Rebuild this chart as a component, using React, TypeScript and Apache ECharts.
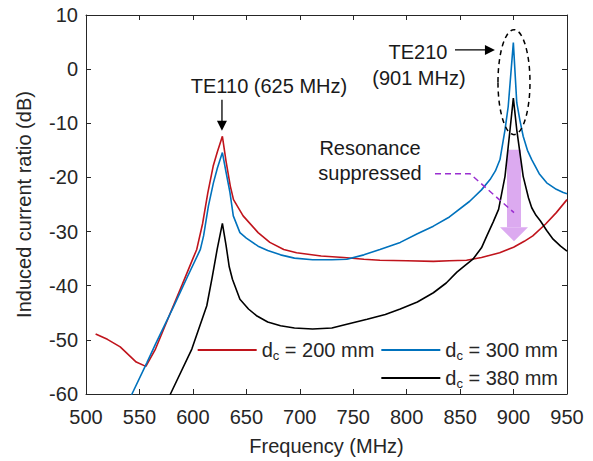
import React, { useEffect, useRef } from "react";
import * as echarts from "echarts";

// ---- data ----
const xTicks = { min: 500, max: 950, interval: 50 };
const yTicks = { min: -60, max: 10, interval: 10 };

const seriesNames = ["dc = 200 mm", "dc = 300 mm", "dc = 380 mm"];

const freq200 = [509, 520, 532, 547, 556, 565, 579, 590, 600, 603.6, 609, 614, 619, 623, 627.6, 631, 635, 638, 647, 661, 672, 685, 697, 720, 741, 760, 775, 800, 825, 840, 856, 870, 887, 900, 910, 918, 930, 940, 950];
const db200 = [-48.9, -49.9, -51.3, -54.1, -54.9, -51.7, -45.0, -39.8, -35.0, -33.3, -28.6, -22.8, -17.9, -15.2, -12.4, -17, -21.6, -24.1, -27.1, -30.2, -32, -33.3, -33.9, -34.5, -34.8, -35.1, -35.3, -35.4, -35.5, -35.4, -35.3, -34.8, -33.9, -32.9, -31.8, -30.8, -28.6, -26.5, -24.1];

const freq300 = [535, 543, 557, 565, 581.6, 595, 607, 610, 614.5, 619.2, 623, 627.6, 631, 634.7, 637.8, 644, 650, 661, 670, 682, 695, 712, 730, 744, 760, 775, 794, 810, 825, 840, 859, 870, 878, 883, 887.3, 892, 895, 899.8, 903, 906, 909, 913, 917, 924, 931, 940, 946.5, 950];
const db300 = [-63.4, -60, -54.2, -50.8, -44, -38.3, -33.3, -30.8, -25.3, -21, -18.2, -15.4, -19, -22.8, -27.1, -30.2, -31.2, -32.7, -33.5, -34.3, -34.9, -35.2, -35.2, -35.1, -34.3, -33.3, -32, -30.4, -29, -27.3, -24.4, -22.3, -20.4, -18.8, -16.7, -11.2, -6.9, 4.9, -6.2, -9.5, -12.4, -15, -16.7, -19.3, -21, -22.2, -22.8, -23];

const freq380 = [570, 579, 599, 613, 618, 622.7, 627.6, 631, 634, 637, 644, 652, 660, 670, 682, 695, 712, 730, 744, 763, 780, 794, 810, 825, 837, 847, 855, 862, 870, 875, 881, 886, 892, 896.7, 899.8, 903, 909, 914, 917, 921, 925, 931, 937, 944, 950];
const db380 = [-64, -60, -51.7, -43.7, -38.5, -33.3, -28.5, -32.5, -36.5, -38.8, -42.5, -44.3, -45.6, -46.7, -47.4, -47.8, -48, -47.8, -47.1, -46.2, -45.3, -44.3, -43, -41.3, -39.5, -37.5, -36.2, -35.1, -33, -30.8, -28.2, -25.9, -19.8, -11.2, -5.35, -11.2, -19.8, -23.8, -25.6, -27, -28, -29.8, -31.4, -32.7, -33.6];

const colors = ["#c0141c", "#0072bd", "#000000"];

const FONT = "'Liberation Sans', Arial, Helvetica, sans-serif";
const INK = "#262626";

function pairs(xs: number[], ys: number[]) {
  return xs.map((x, i) => [x, ys[i]]);
}

export default function App() {
  const ref = useRef<HTMLDivElement>(null);

  useEffect(() => {
    document.body.style.margin = "0";
    if (!ref.current) return;
    const chart = echarts.init(ref.current, undefined, { renderer: "svg" });

    const rich = { s: { fontSize: 13, padding: [10, 0, 0, 0], fontFamily: FONT, color: INK } };
    const legendCommon = {
      icon: "rect",
      itemWidth: 59,
      itemHeight: 2,
      itemGap: 7,
      right: 35,
      padding: 0,
      orient: "horizontal" as const,
      textStyle: { fontSize: 20, fontFamily: FONT, color: INK, rich },
      formatter: (n: string) => n.replace("dc", "d{s|c}"),
      selectedMode: false,
    };

    const axisCommon = {
      axisLine: { show: true, onZero: false, lineStyle: { color: INK, width: 1 } },
      axisTick: { show: true, inside: true, length: 5, lineStyle: { color: INK } },
      splitLine: { show: false },
    };

    chart.setOption({
      animation: false,
      backgroundColor: "#ffffff",
      textStyle: { fontFamily: FONT },
      grid: { left: 86, right: 26, top: 15, bottom: 66, containLabel: false },
      legend: [
        { ...legendCommon, data: [seriesNames[0], seriesNames[1]], top: 340 },
        { ...legendCommon, data: [seriesNames[2]], top: 368 },
      ],
      xAxis: [
        {
          type: "value",
          ...xTicks,
          ...axisCommon,
          name: "Frequency (MHz)",
          nameLocation: "middle",
          nameGap: 42,
          nameTextStyle: { fontSize: 20, color: INK, fontFamily: FONT },
          axisLabel: { fontSize: 20, color: INK, margin: 13, fontFamily: FONT },
        },
        {
          type: "value",
          position: "top",
          ...xTicks,
          ...axisCommon,
          axisLabel: { show: false },
        },
      ],
      yAxis: [
        {
          type: "value",
          ...yTicks,
          ...axisCommon,
          name: "Induced current ratio (dB)",
          nameLocation: "middle",
          nameGap: 52,
          nameTextStyle: { fontSize: 20, color: INK, fontFamily: FONT },
          axisLabel: { fontSize: 20, color: INK, margin: 8, fontFamily: FONT },
        },
        {
          type: "value",
          position: "right",
          ...yTicks,
          ...axisCommon,
          axisLabel: { show: false },
        },
      ],
      series: [
        { name: seriesNames[0], data: pairs(freq200, db200), color: colors[0] },
        { name: seriesNames[1], data: pairs(freq300, db300), color: colors[1] },
        { name: seriesNames[2], data: pairs(freq380, db380), color: colors[2] },
      ].map((s) => ({
        type: "line",
        name: s.name,
        data: s.data,
        xAxisIndex: 0,
        yAxisIndex: 0,
        symbol: "none",
        smooth: false,
        clip: true,
        z: 3,
        itemStyle: { color: s.color },
        lineStyle: { color: s.color, width: 1.6 },
      })),
    });

    const P = (f: number, d: number) =>
      chart.convertToPixel({ xAxisIndex: 0, yAxisIndex: 0 }, [f, d]) as number[];

    const txt = (text: string, f: number, d: number) => {
      const [x, y] = P(f, d);
      return {
        type: "text",
        z: 10,
        style: {
          text,
          x,
          y,
          font: `20px ${FONT}`,
          fill: "#1a1a1a",
          align: "center",
          verticalAlign: "middle",
          textAlign: "center",
          textVerticalAlign: "middle",
        },
      };
    };

    // annotation anchors (data coordinates)
    const a1 = P(627.2, -5.66);
    const a1tip = P(627.2, -11.4);
    const a2s = P(845.2, 3.55);
    const a2tip = P(882.6, 3.55);
    const ell = P(900.4, -2.4);
    const pl1 = P(826.5, -19.3);
    const pl2 = P(859.2, -19.3);
    const pl3 = P(900.4, -26.5);
    const arTop = P(900.4, -14.9);
    const arNeck = P(900.4, -29.2);
    const arTip = P(900.4, -31.8);

    chart.setOption({
      graphic: [
        // pink suppression arrow (under curves)
        {
          type: "rect",
          z: 1,
          shape: { x: arTop[0] - 7, y: arTop[1], width: 14, height: arNeck[1] - arTop[1] },
          style: { fill: "#dcaaf0" },
        },
        {
          type: "polygon",
          z: 1,
          shape: {
            points: [
              [arNeck[0] - 14, arNeck[1]],
              [arNeck[0] + 14, arNeck[1]],
              [arTip[0], arTip[1]],
            ],
          },
          style: { fill: "#dcaaf0" },
        },
        txt("TE110 (625 MHz)", 671.2, -3.1),
        txt("TE210", 810.6, 3.2),
        txt("(901 MHz)", 811.5, -1.6),
        txt("Resonance", 765.7, -14.5),
        txt("suppressed", 765.7, -19.1),
        // TE110 down arrow
        {
          type: "line",
          z: 10,
          shape: { x1: a1[0], y1: a1[1], x2: a1tip[0], y2: a1tip[1] - 8 },
          style: { stroke: "#000", lineWidth: 1.3 },
        },
        {
          type: "polygon",
          z: 10,
          shape: {
            points: [
              [a1tip[0] - 5, a1tip[1] - 10],
              [a1tip[0] + 5, a1tip[1] - 10],
              [a1tip[0], a1tip[1]],
            ],
          },
          style: { fill: "#000" },
        },
        // TE210 right arrow
        {
          type: "line",
          z: 10,
          shape: { x1: a2s[0], y1: a2s[1], x2: a2tip[0] - 8, y2: a2tip[1] },
          style: { stroke: "#000", lineWidth: 1.3 },
        },
        {
          type: "polygon",
          z: 10,
          shape: {
            points: [
              [a2tip[0] - 10, a2tip[1] - 5],
              [a2tip[0] - 10, a2tip[1] + 5],
              [a2tip[0], a2tip[1]],
            ],
          },
          style: { fill: "#000" },
        },
        // dashed ellipse
        {
          type: "ellipse",
          z: 10,
          shape: { cx: ell[0], cy: ell[1], rx: 16, ry: 52.5 },
          style: { fill: "none", stroke: "#000", lineWidth: 1.5, lineDash: [5, 4] },
        },
        // purple dashed leader
        {
          type: "polyline",
          z: 10,
          shape: { points: [pl1, pl2, pl3] },
          style: { fill: "none", stroke: "#9a2ed0", lineWidth: 1.5, lineDash: [6, 4] },
        },
      ],
    });

    return () => chart.dispose();
  }, []);

  return <div ref={ref} style={{ width: 593, height: 461 }} />;
}
